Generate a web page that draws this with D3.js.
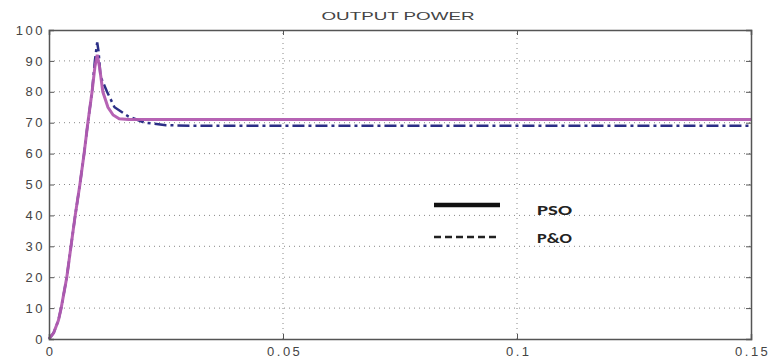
<!DOCTYPE html>
<html>
<head>
<meta charset="utf-8">
<script src="https://cdn.jsdelivr.net/npm/d3@7"></script>
<style>
  body { margin: 0; background: #fff; }
  svg { display: block; }
</style>
</head>
<body>
<svg id="chart" width="771" height="358"></svg>
<script>
const title = "OUTPUT POWER"
const xTicks = [0, 0.05, 0.1, 0.15]
const yTicks = [0, 10, 20, 30, 40, 50, 60, 70, 80, 90, 100]

// PSO response (time s, power)
const psoTime  = [0, 0.001, 0.002, 0.0026, 0.0038, 0.0047, 0.0056, 0.0066, 0.0075, 0.0083, 0.0092, 0.0098, 0.0103, 0.0108, 0.0115, 0.0126, 0.0137, 0.015, 0.017, 0.02, 0.05, 0.1, 0.15]
const psoPower = [0, 2, 6, 10, 20, 30, 40, 50, 60, 70, 80, 88, 92, 88, 80, 75, 72.5, 71.3, 71, 71, 71, 71, 71]

// P&O response
const poTime  = [0, 0.001, 0.002, 0.0026, 0.0038, 0.0047, 0.0056, 0.0066, 0.0075, 0.0083, 0.0092, 0.0098, 0.0103, 0.0106, 0.011, 0.0124, 0.014, 0.017, 0.0205, 0.025, 0.03, 0.05, 0.1, 0.15]
const poPower = [0, 2, 6, 10, 20, 30, 40, 50, 60, 70, 80, 90, 96, 93, 85, 80, 75, 72, 70, 69.2, 69, 69, 69, 69]

const series = [
  { name: "PSO", t: psoTime, p: psoPower },
  { name: "P&O", t: poTime, p: poPower }
]

const margin = { top: 30, right: 20, bottom: 19, left: 49 }
const width = 771, height = 358
const svg = d3.select("#chart")

const x = d3.scaleLinear().domain([0, 0.15]).range([margin.left, width - margin.right])
const y = d3.scaleLinear().domain([0, 100]).range([height - margin.bottom, margin.top])

// grid
const grid = svg.append("g").attr("stroke", "#888").attr("stroke-dasharray", "1,4").attr("stroke-width", 1)
yTicks.slice(1, -1).forEach(v => {
  grid.append("line").attr("x1", x(0)).attr("x2", x(0.15)).attr("y1", y(v)).attr("y2", y(v))
})
xTicks.slice(1, -1).forEach(v => {
  grid.append("line").attr("y1", y(0)).attr("y2", y(100)).attr("x1", x(v)).attr("x2", x(v))
})

// lines
const line = d3.line().x(d => x(d[0])).y(d => y(d[1]))
svg.append("path")
  .attr("d", line(poTime.map((t, i) => [t, poPower[i]])))
  .attr("fill", "none").attr("stroke", "#2b2f86").attr("stroke-width", 2.5)
  .attr("stroke-dasharray", "12,4,3,4")
svg.append("path")
  .attr("d", line(psoTime.map((t, i) => [t, psoPower[i]])))
  .attr("fill", "none").attr("stroke", "#b25bb0").attr("stroke-width", 3)
  .attr("stroke-opacity", 0.95)

// axes (MATLAB box)
const axisFont = "Arial, 'Liberation Sans', sans-serif"
const xAxis = svg.append("g").attr("transform", `translate(0,${y(0)})`)
  .call(d3.axisBottom(x).tickValues(xTicks).tickSize(-5).tickPadding(8).tickFormat(d => d === 0 ? "0" : String(d)))
const xAxisTop = svg.append("g").attr("transform", `translate(0,${y(100)})`)
  .call(d3.axisTop(x).tickValues(xTicks).tickSize(-5).tickFormat(""))
const yAxis = svg.append("g").attr("transform", `translate(${x(0)},0)`)
  .call(d3.axisLeft(y).tickValues(yTicks).tickSize(-5).tickPadding(4))
const yAxisRight = svg.append("g").attr("transform", `translate(${x(0.15)},0)`)
  .call(d3.axisRight(y).tickValues(yTicks).tickSize(-5).tickFormat(""))

;[xAxis, xAxisTop, yAxis, yAxisRight].forEach(g => {
  g.select(".domain").attr("stroke", "#555").attr("stroke-width", 1.5)
  g.selectAll(".tick line").attr("stroke", "#555")
  g.selectAll("text").attr("fill", "#444").style("font-family", axisFont)
    .style("font-size", "13px").style("letter-spacing", "2.5px")
})
xAxis.selectAll("text").attr("dx", "1.2px")

// title
svg.append("text")
  .attr("x", 398).attr("y", 20)
  .attr("text-anchor", "middle")
  .attr("textLength", 153).attr("lengthAdjust", "spacingAndGlyphs")
  .style("font-family", axisFont).style("font-size", "11px").attr("fill", "#444")
  .text(title)

// legend
const legend = svg.append("g")
const legendFont = "Carlito, 'Liberation Sans', 'Open Sans', sans-serif"
legend.append("line").attr("x1", 434).attr("x2", 500).attr("y1", 205).attr("y2", 205)
  .attr("stroke", "#111").attr("stroke-width", 4.5)
legend.append("line").attr("x1", 434).attr("x2", 500).attr("y1", 237).attr("y2", 237)
  .attr("stroke", "#222").attr("stroke-width", 2.5).attr("stroke-dasharray", "7,4")
legend.selectAll("text.lbl").data(series).enter().append("text")
  .attr("x", 537).attr("y", (d, i) => 215 + i * 28)
  .attr("textLength", 35).attr("lengthAdjust", "spacingAndGlyphs")
  .style("font-family", legendFont).style("font-size", "13px").style("font-weight", "bold")
  .attr("fill", "#222")
  .text(d => d.name)
</script>
</body>
</html>
